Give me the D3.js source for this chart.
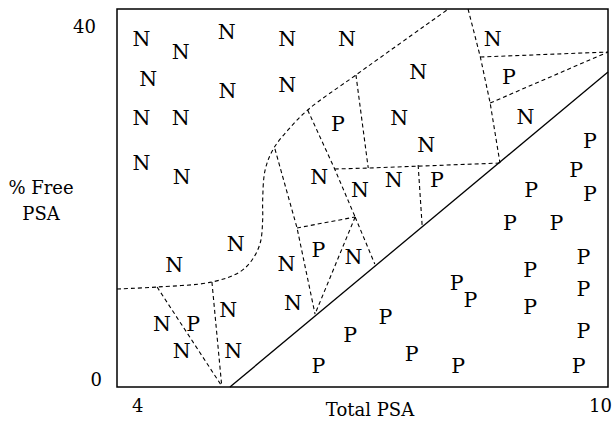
<!DOCTYPE html>
<html>
<head>
<meta charset="utf-8">
<script src="https://cdn.jsdelivr.net/npm/d3@7"></script>
<style>
  body { margin: 0; background: #fff; }
</style>
</head>
<body>
<svg id="vis" width="612" height="422"></svg>
<script>
// observations: [total PSA, % free PSA, class]
const labels = ["N","N","N","N","N","N","N","N","N","N","P","N","N","P","N","N","N","P",
  "N","N","N","N","N","P","P","P","P","P","P","N","P","N","P","N","N","P",
  "P","P","P","P","N","N","N","P","P","P","N","N","P","P","P","P","P"];
const totalPSA = [4.30,4.78,5.34,6.08,6.81,8.59,4.38,5.35,6.08,7.68,8.79,4.30,4.78,6.70,7.45,8.99,7.78,9.78,
  4.30,4.79,6.47,6.97,7.38,7.91,9.61,9.78,9.06,8.80,9.37,5.45,6.46,6.89,9.70,4.70,6.07,9.05,
  8.15,8.32,9.70,9.05,5.36,6.15,4.55,4.93,7.28,9.70,4.79,5.42,6.85,7.60,6.46,8.17,9.64];
const freePSA = [36.9,35.5,37.6,36.9,36.9,36.9,32.6,31.4,32.0,33.4,32.8,28.5,28.5,27.9,28.5,28.6,25.7,26.1,
  23.7,22.3,22.3,20.9,21.9,21.9,23.0,20.5,20.9,17.4,17.4,15.2,14.5,13.8,13.8,12.9,13.1,12.4,
  11.0,9.2,10.4,8.5,8.2,8.9,6.7,6.7,7.4,6.0,3.9,3.9,5.5,3.5,2.3,2.3,2.3];

// dashed region boundaries (total PSA, % free)
const curveBoundary = [[4.00,10.37],[4.49,10.58],[5.16,11.11],[5.50,12.17],[5.65,13.44],[5.75,15.24],
  [5.78,17.67],[5.78,19.79],[5.81,22.96],[5.91,25.19],[6.09,27.20],[6.33,29.31],[6.92,33.02],[8.05,40]];
const cellEdges = [
  [[4.49,10.58],[5.28,0.1]],
  [[5.16,11.11],[5.28,0.1]],
  [[5.93,25.19],[6.20,16.83],[6.42,7.72]],
  [[6.20,16.83],[6.91,17.99]],
  [[6.91,17.99],[6.42,7.72]],
  [[6.91,17.99],[7.15,13.02]],
  [[6.33,29.31],[6.66,23.07],[6.91,17.99]],
  [[6.66,23.07],[7.07,23.17],[8.68,23.70]],
  [[6.92,33.02],[7.07,23.17]],
  [[7.68,23.49],[7.73,16.93]],
  [[8.29,40],[8.44,34.92],[8.56,30.05],[8.68,23.70]],
  [[8.44,34.92],[10,35.45]],
  [[8.56,30.05],[10,35.45]]
];
// solid separating line
const separator = [[5.38,0],[10,33.33]];

const xTicks = [4, 10];
const yTicks = [0, 40];

const serif = "DejaVu Serif";

const svg = d3.select("svg#vis");
const x = d3.scaleLinear().domain([4, 10]).range([117, 608]);
const y = d3.scaleLinear().domain([0, 40]).range([387, 9]);

const line = d3.line().x(d => x(d[0])).y(d => y(d[1]));

// frame
svg.append("rect")
  .attr("x", x(4)).attr("y", y(40))
  .attr("width", x(10) - x(4)).attr("height", y(0) - y(40))
  .attr("fill", "none").attr("stroke", "#000").attr("stroke-width", 1.5);

// boundaries
svg.append("path")
  .attr("d", line.curve(d3.curveCatmullRom)(curveBoundary))
  .attr("fill", "none").attr("stroke", "#000")
  .attr("stroke-width", 1.1).attr("stroke-dasharray", "4,3");
line.curve(d3.curveLinear);

svg.selectAll("path.edge")
  .data(cellEdges)
  .enter()
  .append("path")
  .attr("class", "edge")
  .attr("d", line)
  .attr("fill", "none").attr("stroke", "#000")
  .attr("stroke-width", 1.1).attr("stroke-dasharray", "4,3");

svg.append("path")
  .attr("d", line(separator))
  .attr("fill", "none").attr("stroke", "#000").attr("stroke-width", 1.3);

// points as letters
svg.selectAll("text.pt")
  .data(labels)
  .enter()
  .append("text")
  .attr("class", "pt")
  .attr("x", (d, i) => x(totalPSA[i]))
  .attr("y", (d, i) => y(freePSA[i]))
  .attr("dy", "0.36em")
  .attr("text-anchor", "middle")
  .attr("font-family", serif)
  .attr("font-size", 20.5)
  .text(d => d);

// tick labels
svg.selectAll("text.xtick")
  .data(xTicks)
  .enter()
  .append("text")
  .attr("class", "xtick")
  .attr("x", d => d === 4 ? x(d) + 15 : x(d) + 4)
  .attr("y", y(0) + 25)
  .attr("text-anchor", d => d === 4 ? "start" : "end")
  .attr("font-family", serif)
  .attr("font-size", 18)
  .text(d => d);

svg.selectAll("text.ytick")
  .data(yTicks)
  .enter()
  .append("text")
  .attr("class", "ytick")
  .attr("x", d => d === 40 ? 96 : 102)
  .attr("y", d => d === 40 ? y(d) + 24 : y(d) - 1)
  .attr("text-anchor", "end")
  .attr("font-family", serif)
  .attr("font-size", 18)
  .text(d => d);

// axis titles
svg.append("text")
  .attr("x", 370).attr("y", 416)
  .attr("text-anchor", "middle")
  .attr("font-family", serif)
  .attr("font-size", 18)
  .text("Total PSA");

const yt = svg.append("text")
  .attr("text-anchor", "middle")
  .attr("font-family", serif)
  .attr("font-size", 18);
yt.append("tspan").attr("x", 41).attr("y", 194).text("% Free");
yt.append("tspan").attr("x", 41).attr("y", 220).text("PSA");
</script>
</body>
</html>
